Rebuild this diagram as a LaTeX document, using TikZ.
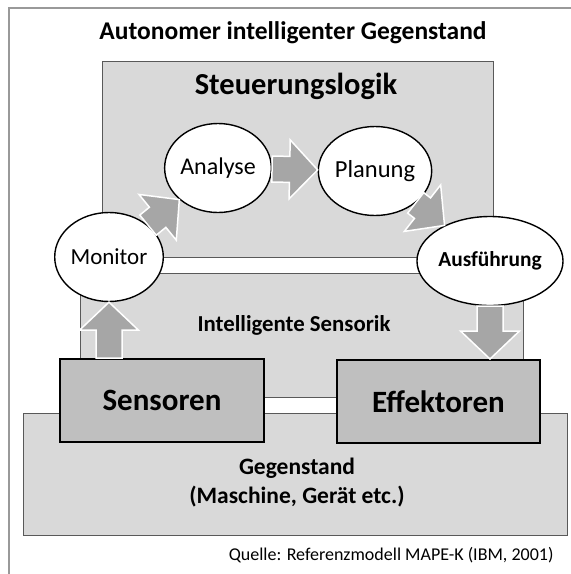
\documentclass[tikz,border=0pt]{standalone}
\usepackage{fontspec}
\setmainfont{Carlito}
\usetikzlibrary{positioning,shapes.geometric,calc}
\tikzset{>=latex,
  area/.style={draw=black!65, line width=0.8pt, fill=black!15, anchor=north west, inner sep=0pt},
  unit/.style={draw=black, line width=2pt, fill=black!25, anchor=north west, inner sep=0pt, font=\fontsize{31}{36}\selectfont\bfseries},
  phase/.style={draw=black, line width=1.4pt, fill=white, ellipse, inner sep=0pt, minimum width=106pt, minimum height=89pt, font=\fontsize{24}{28}\selectfont},
  blockarr/.style={fill=black!35, draw=white, line width=1.5pt, line join=miter}
}
\newcommand{\blockarrow}[2]{%
  \path (#1) -- (#2) coordinate[pos=0] (ba0) coordinate[pos=1] (ba1);
  \coordinate (bah) at ($(ba1)!28pt!(ba0)$);
  \draw[blockarr] ($(ba0)!13pt!90:(ba1)$) -- ($(bah)!13pt!90:(ba1)$) -- ($(bah)!29.5pt!90:(ba1)$) -- (ba1)
    -- ($(bah)!29.5pt!-90:(ba1)$) -- ($(bah)!13pt!-90:(ba1)$) -- ($(ba0)!13pt!-90:(ba1)$) -- cycle;
}

\begin{document}
\begin{tikzpicture}[x=1pt, y=-1pt]
  \useasboundingbox (0,0) rectangle (571,574);
  \draw[black!40, line width=1.5pt] (9,574) -- (9,8) -- (571,8);
  \node[font=\fontsize{25.5}{30}\selectfont\bfseries] (title) at (293,33) {Autonomer intelligenter Gegenstand};
  % Steuerungslogik und Sensorik
  \node[area, minimum width=391pt, minimum height=196pt] (steu) at (102,61) {};
  \node[font=\fontsize{30.5}{36}\selectfont\bfseries] (steutxt) at (296,86) {Steuerungslogik};
  \node[area, minimum width=443pt, minimum height=124pt] (sensorik) at (80,273) {};
  \node[font=\fontsize{22.8}{27}\selectfont\bfseries] (sensoriktxt) at (294,325) {Intelligente Sensorik};
  % Gegenstand
  \node[area, minimum width=544pt, minimum height=122pt] (geg) at (23,413) {};
  \node[font=\fontsize{23.5}{29}\selectfont\bfseries, align=center] (gegtxt) at (297,483) {Gegenstand\\(Maschine, Gerät etc.)};
  \node[unit, minimum width=204pt, minimum height=83pt] (sen) at (59,358) {Sensoren};
  \node[unit, minimum width=203pt, minimum height=83pt] (eff) at (336,359) {Effektoren};
  % MAPE-Zyklus
  \node[phase, font=\fontsize{23}{27}\selectfont] (mon) at (109,257) {Monitor};
  \node[phase] (ana) at (218,168) {Analyse};
  \node[phase, font=\fontsize{24.5}{28}\selectfont] (pla) at (375,171) {Planung};
  \node[phase, font=\fontsize{21.4}{25}\selectfont\bfseries] (aus) at (490,261) {Ausführung};
  \blockarrow{mon}{ana}
  \blockarrow{ana}{pla}
  \blockarrow{pla}{aus}
  \blockarrow{mon.south |- sen.north}{mon.south}
  \blockarrow{aus.south}{aus.south |- eff.north}
  \node[anchor=east, font=\fontsize{18}{21}\selectfont] (quelle) at (557,555) {Quelle: Referenzmodell MAPE-K (IBM, 2001)};
\end{tikzpicture}
\end{document}
